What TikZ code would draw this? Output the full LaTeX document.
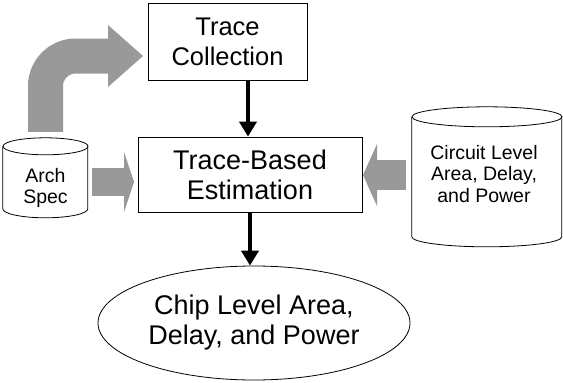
\documentclass[tikz,border=0pt]{standalone}
\usepackage{fontspec}
\setmainfont{Liberation Sans}
\usetikzlibrary{arrows.meta,shapes.geometric}

\definecolor{blockgray}{RGB}{153,153,153}

\begin{document}
\begin{tikzpicture}[x=1pt,y=-1pt,
  proc/.style={draw, line width=0.8pt, align=center, inner sep=0pt},
  big/.style={font=\fontsize{27}{30}\selectfont},
  label19/.style={align=center, inner sep=0pt, font=\fontsize{19.5}{21.5}\selectfont},
  outline/.style={line width=0.8pt},
  flow/.style={line width=4pt, -{Triangle[length=15pt,width=17pt]}},
  feed/.style={blockgray}]

\useasboundingbox (0,0) rectangle (563,383);

% process boxes
\node[proc, font=\fontsize{25.5}{30}\selectfont, minimum width=159, minimum height=77]
  (tc) at (227.5,41.5) {Trace\\Collection};
\node[proc, big, minimum width=224, minimum height=75] (tbe) at (250,174.5) {Trace-Based\\Estimation};

% result ellipse
\node[draw, outline, ellipse, big, align=center, inner sep=0pt,
  minimum width=312, minimum height=114] (chip) at (254,323)
  {Chip Level Area,\\Delay, and Power};

% data stores (cylinders)
\node[minimum width=85, minimum height=80, inner sep=0pt] (arch) at (45.5,178) {};
\node[minimum width=150, minimum height=140, inner sep=0pt] (circ) at (487,177) {};

\draw[outline, fill=white] (arch.north west) ++(0,8.5) -- ++(0,62.5)
  arc[start angle=180, end angle=0, x radius=42.5, y radius=9] -- ++(0,-62.5);
\draw[outline] ([yshift=-8.5pt]arch.north) ellipse[x radius=42.5, y radius=8.5];
\node[label19] (archtxt) at (45.5,188) {Arch\\Spec};

\draw[outline, fill=white] (circ.north west) ++(0,10) -- ++(0,120)
  arc[start angle=180, end angle=0, x radius=75, y radius=10] -- ++(0,-120);
\draw[outline] ([yshift=-10pt]circ.north) ellipse[x radius=75, y radius=10];
\node[label19] (circtxt) at (484,174) {Circuit Level\\Area, Delay,\\and Power};

% main flow
\draw[flow] (tc.south -| 248,0) -- (tbe.north -| 248,0);
\draw[flow] (tbe.south) -- (tbe.south |- chip.north);

% inputs drawn as wide grey block arrows
\coordinate (tcin) at (143,56);
\draw[feed, line width=35pt, rounded corners=30pt,
  -{Triangle[length=35pt,width=62pt,line width=0pt]}]
  ([yshift=6pt]arch.north) -- (arch.north |- tcin) -- (tcin);

\coordinate (archout) at (134,182);
\draw[feed, line width=28pt, -{Triangle[length=10pt,width=60pt,line width=0pt]}]
  ([xshift=4pt]arch.east |- archout) -- (archout);

\coordinate (circout) at (363,175);
\draw[feed, line width=30pt, -{Triangle[length=14pt,width=62pt,line width=0pt]}]
  ([xshift=-6pt]circ.west |- circout) -- (circout);

\end{tikzpicture}
\end{document}
